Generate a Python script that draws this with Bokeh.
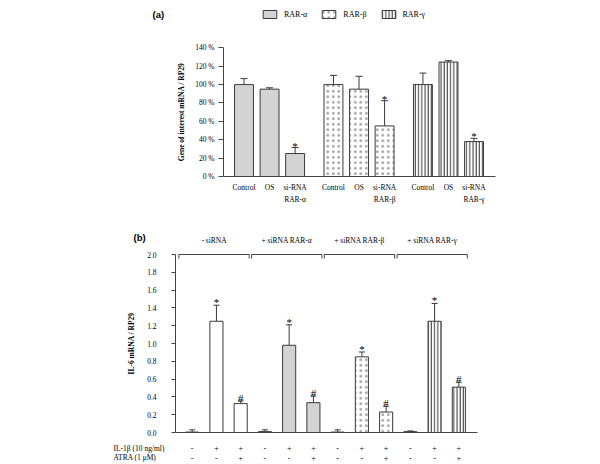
from bokeh.plotting import figure
from bokeh.models import (ColumnDataSource, FixedTicker, Whisker, TeeHead, Label,
                          LabelSet, Range1d)
from bokeh.layouts import column
from bokeh.embed import file_html
from bokeh.resources import INLINE
from bokeh.core.properties import value

# ---------------- data: panel (a) ----------------
a_receptors = ["RAR-α", "RAR-β", "RAR-γ"]
a_conditions = ["Control", "OS", "si-RNA"]
a_alpha = [100, 95, 25]
a_alpha_err = [6.5, 1.5, 6.5]
a_beta = [100, 95, 55]
a_beta_err = [10, 14, 27.5]
a_gamma = [100, 124.5, 38]
a_gamma_err = [12.5, 1.5, 3.5]
a_sig = ["", "", "*"]
a_yticks = [0, 20, 40, 60, 80, 100, 120, 140]

# ---------------- data: panel (b) ----------------
b_groups = ["- siRNA", "+ siRNA RAR-α", "+ siRNA RAR-β", "+ siRNA RAR-γ"]
b_values = [0.005, 1.25, 0.325, 0.01, 0.98, 0.335, 0.005, 0.85, 0.23, 0.01, 1.25, 0.51]
b_err = [0.025, 0.18, 0.03, 0.02, 0.23, 0.075, 0.025, 0.055, 0.065, 0.008, 0.2, 0.055]
b_sig = ["", "*", "#", "", "*", "#", "", "*", "#", "", "*", "#"]
b_il1b = ["-", "+", "+", "-", "+", "+", "-", "+", "+", "-", "+", "+"]
b_atra = ["-", "-", "+", "-", "-", "+", "-", "-", "+", "-", "-", "+"]
b_row_labels = ["IL-1β (10 ng/ml)", "ATRA (1 μM)"]
b_yticks = [0.0, 0.2, 0.4, 0.6, 0.8, 1.0, 1.2, 1.4, 1.6, 1.8, 2.0]

# ---------------- styles ----------------
SERIF = "Liberation Serif"
SANS = "Liberation Sans"
LINE = "#3a3a3a"
AX = "#444444"
STYLE = {
    "none": dict(fill_color="white", hatch_pattern=None),
    "a": dict(fill_color="#d3d3d3", hatch_pattern=None),
    "b": dict(fill_color="white", hatch_pattern="dot", hatch_scale=5.5, hatch_color="#a0a0a0"),
    "g": dict(fill_color="white", hatch_pattern="vertical_line", hatch_scale=3.2,
              hatch_color="#333333", hatch_weight=1),
}

W = 600
FRAME_L = 80          # left border of both frames (axes drawn at fixed locations inside)

# ======================= panel (a) =======================
A_H, A_BOTTOM = 230, 2
A_X0, A_UNIT = 243.5, 25.56      # pixel of first bar, pixels per x unit
A_Y0, A_PPU = 176.0, 128.7 / 140  # pixel of 0 %, pixels per %
A_AXL, A_AXR = 223, 495           # axis line extent in pixels
a_fh = A_H - A_BOTTOM
ax_to = lambda px: (px - A_X0) / A_UNIT
ay_to = lambda py: (A_Y0 - py) / A_PPU

p1 = figure(width=W, height=A_H,
            x_range=Range1d(ax_to(FRAME_L), ax_to(W)), y_range=Range1d(ay_to(a_fh), ay_to(0)),
            output_backend="svg", toolbar_location=None,
            min_border_left=FRAME_L, min_border_right=0, min_border_top=0, min_border_bottom=A_BOTTOM)
p1.outline_line_color = None
p1.grid.visible = False

a_sets = [(a_alpha, a_alpha_err, "a"), (a_beta, a_beta_err, "b"), (a_gamma, a_gamma_err, "g")]
lab_x, lab_1, lab_2 = [], [], []
for g, ((vals, errs, key), name) in enumerate(zip(a_sets, a_receptors)):
    xs = [g * 3.5 + i for i in range(len(vals))]
    src = ColumnDataSource(dict(x=xs, top=vals, upper=[v + e for v, e in zip(vals, errs)], sig=a_sig))
    p1.vbar(x="x", top="top", width=0.74, source=src, line_color=LINE, line_width=1,
            legend_label=name, **STYLE[key])
    p1.add_layout(Whisker(source=src, base="x", upper="upper", lower="top", lower_head=None,
                          upper_head=TeeHead(size=7, line_color=LINE, line_width=1),
                          line_color=LINE, line_width=1))
    p1.text(x="x", y="upper", text="sig", source=src, text_align="center",
            text_baseline="alphabetic", y_offset=-2, text_font=value(SERIF),
            text_font_size="11px", text_color="black")
    for x, c in zip(xs, a_conditions):
        lab_x.append(x)
        lab_1.append(c)
        lab_2.append(name if c == "si-RNA" else "")

# category labels under the bars (two text rows placed through the x scale)
for txt, py in [(lab_1, 186.5), (lab_2, 198.5)]:
    p1.text(x=lab_x, y=[ay_to(py)] * len(lab_x), text=txt, text_align="center",
            text_baseline="middle", text_font=value(SERIF), text_font_size="7.5px",
            text_color="black")

xa = p1.xaxis[0]
xa.fixed_location = 0
xa.bounds = (ax_to(A_AXL), ax_to(A_AXR))
xa.ticker = FixedTicker(ticks=[])
xa.major_tick_out = 0
xa.major_tick_in = 0
xa.major_label_standoff = 0
xa.major_tick_line_color = None
xa.minor_tick_line_color = None
xa.axis_line_color = AX

ya = p1.yaxis[0]
ya.fixed_location = ax_to(A_AXL)
ya.bounds = (0, 140)
ya.ticker = FixedTicker(ticks=a_yticks)
ya.major_label_overrides = {t: f"{t} %" for t in a_yticks}
ya.major_tick_out = 5
ya.major_tick_in = 0
ya.major_tick_line_color = AX
ya.minor_tick_line_color = None
ya.axis_line_color = AX
ya.major_label_text_font = SERIF
ya.major_label_text_font_size = "7.5px"
ya.major_label_text_color = "black"
ya.major_label_standoff = 4
ya.axis_label = "Gene of interest mRNA / RP29"
ya.axis_label_text_font = SERIF
ya.axis_label_text_font_style = "bold"
ya.axis_label_text_font_size = "7.5px"
ya.axis_label_text_color = "black"
ya.axis_label_standoff = 6

lg = p1.legend[0]
lg.orientation = "horizontal"
lg.location = (261 - FRAME_L, a_fh - 19)
lg.margin = 0
lg.padding = 0
lg.spacing = 13
lg.glyph_width = 17
lg.glyph_height = 10
lg.label_standoff = 6
lg.label_height = 10
lg.label_text_font = SERIF
lg.label_text_font_size = "8px"
lg.label_text_color = "black"
lg.border_line_color = None
lg.background_fill_alpha = 0

p1.add_layout(Label(x=ax_to(152), y=ay_to(14), text="(a)", text_font=SANS, text_font_style="bold",
                    text_font_size="9.5px", text_baseline="middle", text_color="black"))

# ======================= panel (b) =======================
B_TOP = 230
B_H, B_BOTTOM = 464 - B_TOP, 2
B_X0, B_UNIT = 191.7, 24.24
B_Y0, B_PPU = 432.0 - B_TOP, 89.0
B_AXL, B_AXR = 175, 477
b_fh = B_H - B_BOTTOM
bx_to = lambda px: (px - B_X0) / B_UNIT
by_to = lambda py: (B_Y0 - (py - B_TOP)) / B_PPU   # py in page pixels

p2 = figure(width=W, height=B_H,
            x_range=Range1d(bx_to(FRAME_L), bx_to(W)),
            y_range=Range1d(by_to(B_TOP + b_fh), by_to(B_TOP)),
            output_backend="svg", toolbar_location=None,
            min_border_left=FRAME_L, min_border_right=0, min_border_top=0, min_border_bottom=B_BOTTOM)
p2.outline_line_color = None
p2.grid.visible = False

group_keys = ["none", "a", "b", "g"]
n_per = 3
for g, key in enumerate(group_keys):
    idx = range(g * n_per, (g + 1) * n_per)
    xs = list(idx)
    vals = [b_values[i] for i in idx]
    errs = [b_err[i] for i in idx]
    src = ColumnDataSource(dict(x=xs, top=vals, upper=[v + e for v, e in zip(vals, errs)],
                                sig=[b_sig[i] for i in idx]))
    p2.vbar(x="x", top="top", width=0.54, source=src, line_color=LINE, line_width=1, **STYLE[key])
    p2.add_layout(Whisker(source=src, base="x", upper="upper", lower="top", lower_head=None,
                          upper_head=TeeHead(size=6, line_color=LINE, line_width=1),
                          line_color=LINE, line_width=1))
    p2.text(x="x", y="upper", text="sig", source=src, text_align="center",
            text_baseline="alphabetic", y_offset=-3, text_font=value(SERIF),
            text_font_size="11px", text_color="black")

# brackets above groups
centers = [g * n_per + 0.9 for g in range(len(b_groups))]
half = 1.45
p2.multi_line(xs=[[c - half, c - half, c + half, c + half] for c in centers],
              ys=[[1.955, 2.0, 2.0, 1.955] for _ in centers], line_color=AX, line_width=1)
p2.text(x=centers, y=[by_to(240)] * len(centers), text=b_groups, text_align="center",
        text_baseline="middle", text_font=value(SERIF), text_font_size="7.5px", text_color="black")

xb = p2.xaxis[0]
xb.fixed_location = 0
xb.bounds = (bx_to(B_AXL), bx_to(B_AXR))
xb.ticker = FixedTicker(ticks=[])
xb.axis_line_color = AX
xb.major_tick_out = 0
xb.major_tick_in = 0
xb.major_label_standoff = 0
xb.major_tick_line_color = None
xb.minor_tick_line_color = None

yb = p2.yaxis[0]
yb.fixed_location = bx_to(B_AXL)
yb.bounds = (0, 2.0)
yb.ticker = FixedTicker(ticks=b_yticks)
yb.major_label_overrides = {t: f"{t:.1f}" for t in b_yticks}
yb.major_tick_out = 4
yb.major_tick_in = 0
yb.major_tick_line_color = AX
yb.minor_tick_line_color = None
yb.axis_line_color = AX
yb.major_label_text_font = SERIF
yb.major_label_text_font_size = "7.5px"
yb.major_label_text_color = "black"
yb.major_label_standoff = 15
yb.axis_label = "IL-6 mRNA / RP29"
yb.axis_label_text_font = SERIF
yb.axis_label_text_font_style = "bold"
yb.axis_label_text_font_size = "7.5px"
yb.axis_label_text_color = "black"
yb.axis_label_standoff = 8

row_y = [by_to(447.5), by_to(457)]
rows_src = ColumnDataSource(dict(x=list(range(len(b_il1b))) * 2,
                                 y=[row_y[0]] * len(b_il1b) + [row_y[1]] * len(b_atra),
                                 t=b_il1b + b_atra))
p2.add_layout(LabelSet(x="x", y="y", text="t", source=rows_src, text_align="center",
                       text_baseline="middle", text_font=SERIF, text_font_size="8px",
                       text_color="black"))
for lab, yy in zip(b_row_labels, row_y):
    p2.add_layout(Label(x=bx_to(113), y=yy, text=lab, text_align="left", text_baseline="middle",
                        text_font=SERIF, text_font_size="7.5px", text_color="black"))

p2.add_layout(Label(x=bx_to(133), y=by_to(237), text="(b)", text_font=SANS, text_font_style="bold",
                    text_font_size="9.5px", text_baseline="middle", text_color="black"))

layout = column(p1, p2)
open("out.html", "w").write(file_html(layout, INLINE))
